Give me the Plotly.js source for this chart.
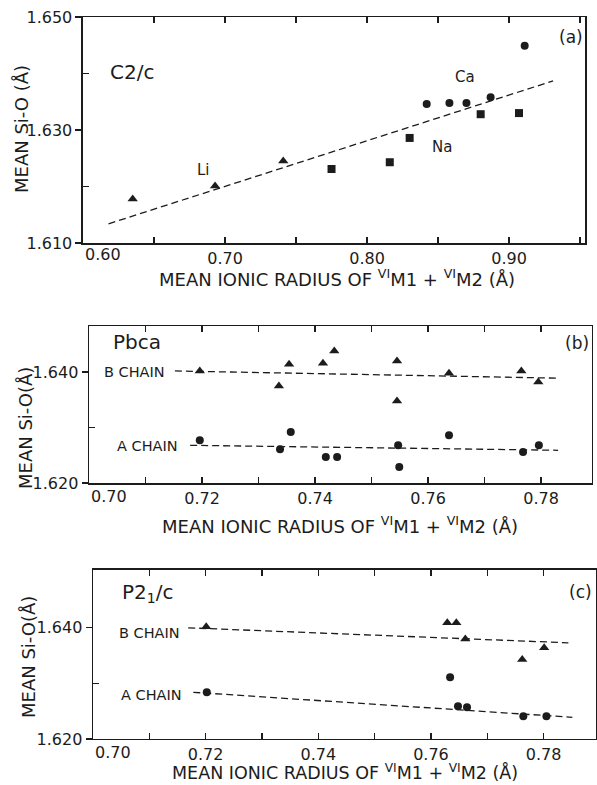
<!DOCTYPE html>
<html><head><meta charset="utf-8">
<script src="https://cdn.plot.ly/plotly-3.0.1.min.js"></script>
<style>html,body{margin:0;padding:0;background:#fff}</style>
</head><body>
<div id="chart" style="width:597px;height:785px"></div>
<script>
// Panel (a) C2/c
const aLi_x = [0.635, 0.693, 0.741];
const aLi_y = [1.6178, 1.6201, 1.6245];
const aNa_x = [0.775, 0.816, 0.830, 0.880, 0.907];
const aNa_y = [1.6231, 1.6243, 1.6286, 1.6328, 1.6330];
const aCa_x = [0.842, 0.858, 0.870, 0.887, 0.911];
const aCa_y = [1.6346, 1.6348, 1.6348, 1.6358, 1.6449];
const aFit_x = [0.618, 0.931];
const aFit_y = [1.6134, 1.6387];
// Panel (b) Pbca
const bB_x = [0.7196, 0.7336, 0.7354, 0.7414, 0.7434, 0.7545, 0.7545, 0.7637, 0.7765, 0.7795];
const bB_y = [1.6402, 1.6375, 1.6414, 1.6416, 1.6438, 1.6420, 1.6348, 1.6398, 1.6402, 1.6382];
const bA_x = [0.7196, 0.7338, 0.7357, 0.7419, 0.7439, 0.7547, 0.7549, 0.7637, 0.7768, 0.7796];
const bA_y = [1.6277, 1.6261, 1.6292, 1.6247, 1.6247, 1.6268, 1.6229, 1.6286, 1.6256, 1.6268];
const bBfit_x = [0.7152, 0.783], bBfit_y = [1.6402, 1.6389];
const bAfit_x = [0.7179, 0.783], bAfit_y = [1.6268, 1.6259];
// Panel (c) P2_1/c
const cB_x = [0.7201, 0.7629, 0.7645, 0.7661, 0.7762, 0.7801];
const cB_y = [1.6402, 1.6409, 1.6409, 1.6380, 1.6343, 1.6364];
const cA_x = [0.7202, 0.7634, 0.7648, 0.7664, 0.7764, 0.7805];
const cA_y = [1.6284, 1.6311, 1.6259, 1.6257, 1.6241, 1.6241];
const cBfit_x = [0.7169, 0.7844], cBfit_y = [1.6400, 1.6373];
const cAfit_x = [0.7178, 0.7851], cAfit_y = [1.6284, 1.6239];
// ticks
const aXTicks = [0.70, 0.80, 0.90];
const aXText = ['0.70', '0.80', '0.90'];
const aXMinor = [0.65, 0.75, 0.85, 0.95];
const aYTicks = [1.610, 1.630, 1.650];
const aYText = ['1.610', '1.630', '1.650'];
const aYMinor = [1.620, 1.640];
const bcXTicks = [0.72, 0.74, 0.76, 0.78];
const bcXText = ['0.72', '0.74', '0.76', '0.78'];
const bcXMinor = [0.71, 0.73, 0.75, 0.77];
const bcYTicks = [1.620, 1.640];
const bcYText = ['1.620', '1.640'];
const bcYMinor = [1.630];
const xTitle = 'MEAN IONIC RADIUS OF <sup>VI</sup>M1 + <sup>VI</sup>M2 (Å)';

const K = '#1c1c1c';
const FONT = 'DejaVu Sans';
function pts(x, y, sym, size, xa, ya) {
  return {x: x, y: y, xaxis: xa, yaxis: ya, mode: 'markers', type: 'scatter',
    marker: {symbol: sym, size: size, color: K}, showlegend: false, hoverinfo: 'skip'};
}
function fit(x, y, xa, ya) {
  return {x: x, y: y, xaxis: xa, yaxis: ya, mode: 'lines', type: 'scatter',
    line: {color: K, width: 1.3, dash: '7px,4px'}, showlegend: false, hoverinfo: 'skip'};
}
const data = [
  fit(aFit_x, aFit_y, 'x', 'y'),
  pts(aLi_x, aLi_y, 'triangle-up', 9, 'x', 'y'),
  pts(aNa_x, aNa_y, 'square', 8, 'x', 'y'),
  pts(aCa_x, aCa_y, 'circle', 8, 'x', 'y'),
  fit(bBfit_x, bBfit_y, 'x2', 'y2'),
  fit(bAfit_x, bAfit_y, 'x2', 'y2'),
  pts(bB_x, bB_y, 'triangle-up', 9, 'x2', 'y2'),
  pts(bA_x, bA_y, 'circle', 8, 'x2', 'y2'),
  fit(cBfit_x, cBfit_y, 'x3', 'y3'),
  fit(cAfit_x, cAfit_y, 'x3', 'y3'),
  pts(cB_x, cB_y, 'triangle-up', 9, 'x3', 'y3'),
  pts(cA_x, cA_y, 'circle', 8, 'x3', 'y3')
];

function xax(domain, range, tv, tt, minor, anchor) {
  return {domain: domain, range: range, anchor: anchor, tickmode: 'array', tickvals: tv, ticktext: tt,
    ticks: 'inside', ticklen: 6, tickwidth: 1.3, tickcolor: K, mirror: 'ticks',
    minor: {tickmode: 'array', tickvals: minor, ticks: 'inside', ticklen: 6, tickwidth: 1.3, tickcolor: K},
    showline: true, linecolor: K, linewidth: 1.5, showgrid: false, zeroline: false,
    tickfont: {family: FONT, size: 16, color: K}, fixedrange: true};
}
function yax(domain, range, tv, tt, minor, anchor) {
  return {domain: domain, range: range, anchor: anchor, tickmode: 'array', tickvals: tv, ticktext: tt,
    ticks: 'outside', ticklen: 6, tickwidth: 1.3, tickcolor: K, mirror: true,
    minor: {tickmode: 'array', tickvals: minor, ticks: 'inside', ticklen: 6, tickwidth: 1.3, tickcolor: K},
    showline: true, linecolor: K, linewidth: 1.5, showgrid: false, zeroline: false,
    tickfont: {family: FONT, size: 16, color: K}, fixedrange: true};
}
function yright(over, anchor, range, tv) {
  return {overlaying: over, anchor: anchor, side: 'right', range: range, tickmode: 'array', tickvals: tv,
    ticks: 'inside', ticklen: 6, tickwidth: 1.3, tickcolor: K, showticklabels: false,
    showline: false, showgrid: false, zeroline: false, fixedrange: true};
}

const ann = [];
function t(text, x, y, xref, yref, size, extra) {
  ann.push(Object.assign({text: text, x: x, y: y, xref: xref, yref: yref, showarrow: false,
    xanchor: 'center', yanchor: 'middle', font: {family: FONT, size: size, color: K}}, extra || {}));
}
const H = 785, W = 597;
// panel a
t('C2/c', 0.6345, 1.6403, 'x', 'y', 20);
t('Li', 0.685, 1.6229, 'x', 'y', 15);
t('Ca', 0.869, 1.6394, 'x', 'y', 15);
t('Na', 0.853, 1.6270, 'x', 'y', 15);
t('(a)', 0.9437, 1.6465, 'x', 'y', 17);
t('0.60', 0.60, 1 - 255 / H, 'x', 'paper', 16, {xanchor: 'left'});
t(xTitle, 337 / W, 1 - 278 / H, 'paper', 'paper', 18);
t('MEAN Si-O (Å)', 22 / W, 1 - 129 / H, 'paper', 'paper', 18, {textangle: -90});
// panel b
t('Pbca', 0.7085, 1.6454, 'x2', 'y2', 20);
t('B CHAIN', 0.7081, 1.6400, 'x2', 'y2', 14.5, {bgcolor: '#fff'});
t('A CHAIN', 0.7103, 1.6267, 'x2', 'y2', 14.5, {bgcolor: '#fff'});
t('(b)', 0.7864, 1.6452, 'x2', 'y2', 17);
t('0.70', 0.70, 1 - 496 / H, 'x2', 'paper', 16, {xanchor: 'left'});
t(xTitle, 340 / W, 1 - 525 / H, 'paper', 'paper', 18);
t('MEAN Si-O(Å)', 25 / W, 1 - 428 / H, 'paper', 'paper', 18, {textangle: -90});
// panel c
t('P2<sub>1</sub>/c', 0.7096, 1.6463, 'x3', 'y3', 20);
t('B CHAIN', 0.7100, 1.6391, 'x3', 'y3', 14.5, {bgcolor: '#fff'});
t('A CHAIN', 0.7103, 1.6280, 'x3', 'y3', 14.5, {bgcolor: '#fff'});
t('(c)', 0.7865, 1.6464, 'x3', 'y3', 17);
t('0.70', 0.70, 1 - 752 / H, 'x3', 'paper', 16, {xanchor: 'left'});
t(xTitle, 345 / W, 1 - 772 / H, 'paper', 'paper', 17.5);
t('MEAN Si-O(Å)', 28 / W, 1 - 657 / H, 'paper', 'paper', 18, {textangle: -90});

const layout = {
  width: W, height: H, autosize: false,
  margin: {l: 0, r: 0, t: 0, b: 0, pad: 0},
  paper_bgcolor: '#fff', plot_bgcolor: 'rgba(0,0,0,0)',
  showlegend: false,
  xaxis: xax([0.139, 0.980], [0.60, 0.9535], aXTicks, aXText, aXMinor, 'y'),
  yaxis: yax([0.6904, 0.9783], [1.610, 1.650], aYTicks, aYText, aYMinor, 'x'),
  xaxis2: xax([0.1491, 0.9916], [0.70, 0.789], bcXTicks, bcXText, bcXMinor, 'y2'),
  yaxis2: yax([0.3847, 0.5847], [1.620, 1.6483], bcYTicks, bcYText, bcYMinor, 'x2'),
  xaxis3: xax([0.1558, 0.9983], [0.70, 0.7893], bcXTicks, bcXText, bcXMinor, 'y3'),
  yaxis3: yax([0.0586, 0.2739], [1.620, 1.6504], bcYTicks, bcYText, bcYMinor, 'x3'),
  yaxis4: yright('y', 'x', [1.610, 1.650], [1.620, 1.630, 1.640]),
  yaxis5: yright('y2', 'x2', [1.620, 1.6483], [1.630, 1.640]),
  yaxis6: yright('y3', 'x3', [1.620, 1.6504], [1.630, 1.640]),
  annotations: ann
};
Plotly.newPlot('chart', data, layout, {staticPlot: true, displayModeBar: false});
</script>
</body></html>
